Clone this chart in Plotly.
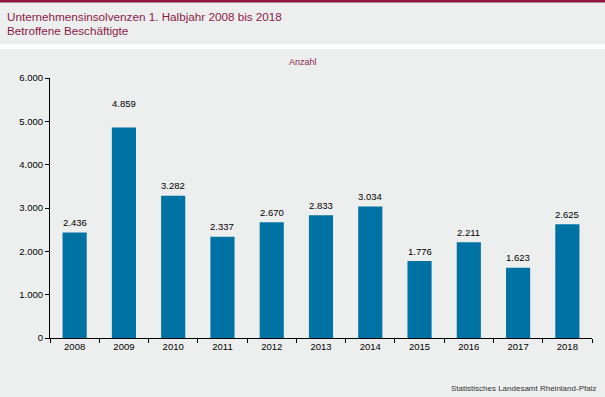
import plotly.graph_objects as go

years = ["2008", "2009", "2010", "2011", "2012", "2013", "2014", "2015", "2016", "2017", "2018"]
values = [2436, 4859, 3282, 2337, 2670, 2833, 3034, 1776, 2211, 1623, 2625]
y_ticks = [0, 1000, 2000, 3000, 4000, 5000, 6000]

title_line1 = "Unternehmensinsolvenzen 1. Halbjahr 2008 bis 2018"
title_line2 = "Betroffene Beschäftigte"
unit_label = "Anzahl"
source_label = "Statistisches Landesamt Rheinland-Pfalz"

W, H = 605, 397
ML, MR, MT, MB = 50, 13, 78, 59
PW, PH = W - ML - MR, H - MT - MB

def px_x(px):
    return (px - ML) / PW

def px_y(py):
    return (H - MB - py) / PH

bg = "#EDEFEE"
red = "#8B1A3A"
text_red = "#8B1A4A"
bar_color = "#0072A3"
font = "Liberation Sans, Arial, sans-serif"

def fmt(v):
    return f"{v:,}".replace(",", ".")

fig = go.Figure(go.Bar(
    x=years, y=values, marker_color=bar_color, marker_line_width=0,
    hoverinfo="x+y",
))

annotations = []
for i, (yr, v) in enumerate(zip(years, values)):
    shift = 24 if yr == "2009" else 10
    annotations.append(dict(x=i, y=v, xref="x", yref="y", text=fmt(v), showarrow=False,
                            yshift=shift, font=dict(family=font, size=9.5, color="#000000")))

annotations += [
    dict(x=px_x(5), y=px_y(17), xref="paper", yref="paper", xanchor="left", yanchor="middle",
         text=title_line1, showarrow=False, font=dict(family=font, size=11.7, color=text_red)),
    dict(x=px_x(5), y=px_y(31), xref="paper", yref="paper", xanchor="left", yanchor="middle",
         text=title_line2, showarrow=False, font=dict(family=font, size=11.7, color=text_red)),
    dict(x=px_x(303), y=px_y(62), xref="paper", yref="paper", xanchor="center", yanchor="middle",
         text=unit_label, showarrow=False, font=dict(family=font, size=9, color=text_red)),
    dict(x=px_x(598), y=px_y(388), xref="paper", yref="paper", xanchor="right", yanchor="middle",
         text=source_label, showarrow=False, font=dict(family=font, size=8, color="#333333")),
]

shapes = [
    dict(type="rect", xref="paper", yref="paper", x0=px_x(0), x1=px_x(W), y0=px_y(0), y1=px_y(2.5),
         fillcolor=red, line_width=0, layer="below"),
    dict(type="rect", xref="paper", yref="paper", x0=px_x(0), x1=px_x(W), y0=px_y(44), y1=px_y(49),
         fillcolor="#FFFFFF", line_width=0, layer="below"),
]

fig.update_layout(
    width=W, height=H,
    margin=dict(l=ML, r=MR, t=MT, b=MB),
    paper_bgcolor=bg, plot_bgcolor=bg,
    separators=",.",
    bargap=0.51,
    showlegend=False,
    font=dict(family=font, size=9.5, color="#000000"),
    annotations=annotations,
    shapes=shapes,
    xaxis=dict(
        type="category", showgrid=False, showline=True, linecolor="#000000", linewidth=1,
        ticks="outside", ticklen=4, tickcolor="#000000", tickson="boundaries",
        tickfont=dict(family=font, size=9.5, color="#000000"),
        range=[-0.5, len(years) - 0.5],
    ),
    yaxis=dict(
        range=[0, 6000], tickvals=y_ticks, tickformat=",d", showgrid=False, zeroline=False,
        showline=True, linecolor="#000000", linewidth=1,
        ticks="outside", ticklen=4, tickcolor="#000000",
        tickfont=dict(family=font, size=9.5, color="#000000"),
    ),
)

fig.write_html("out.html", config={"displayModeBar": False},
               post_script="document.body.style.margin='0';document.body.style.overflow='hidden';")
